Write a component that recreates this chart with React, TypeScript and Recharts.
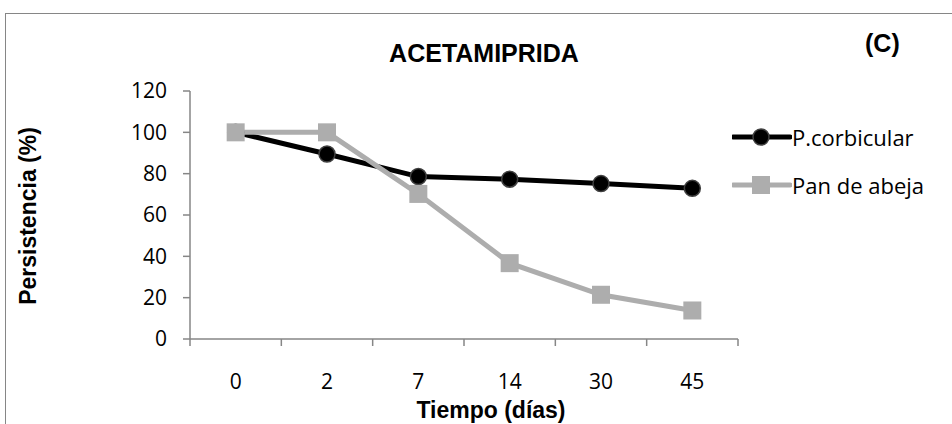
import { LineChart, Line, XAxis, YAxis, Legend } from "recharts";

const days = ["0", "2", "7", "14", "30", "45"];
const corbicular = [100, 89.5, 78.6, 77.3, 75.2, 72.9];
const panDeAbeja = [100, 100, 70.2, 36.7, 21.4, 13.8];
const yTicks = [0, 20, 40, 60, 80, 100, 120];

const data = days.map((day, i) => ({ day, corbicular: corbicular[i], pan: panDeAbeja[i] }));

const W = 952;
const H = 424;
const LEFT = 190;
const RIGHT = 214;
const TOP = 91;
const X_AXIS_H = 85;
const PLOT_W = W - LEFT - RIGHT;
const BAND = PLOT_W / days.length;
const AXIS_Y = H - X_AXIS_H;

const AXIS_COLOR = "#868686";
const GRAY = "#adadad";
const TICK_FONT = "'Open Sans', sans-serif";
const BOLD_FONT = "'Liberation Sans', Arial, sans-serif";

const XTick = (props: any) => {
  const { x, payload, index } = props;
  return (
    <g>
      <line x1={x - BAND / 2} x2={x - BAND / 2} y1={AXIS_Y} y2={AXIS_Y + 7} stroke={AXIS_COLOR} strokeWidth={1.5} />
      {index === days.length - 1 && (
        <line x1={x + BAND / 2} x2={x + BAND / 2} y1={AXIS_Y} y2={AXIS_Y + 7} stroke={AXIS_COLOR} strokeWidth={1.5} />
      )}
      <text x={x} y={AXIS_Y + 50} textAnchor="middle" fontSize={21} fontFamily={TICK_FONT} fill="#000">
        {payload.value}
      </text>
    </g>
  );
};

const SquareDot = (props: any) => {
  const { cx, cy, index } = props;
  return <rect key={`sq-${index}`} x={cx - 9} y={cy - 9} width={18} height={18} fill={GRAY} />;
};

const renderLegend = () => (
  <div style={{ fontFamily: TICK_FONT, fontSize: 22, color: "#000" }}>
    <div style={{ display: "flex", alignItems: "center", height: 30 }}>
      <svg width={60} height={24}>
        <line x1={1} x2={58} y1={12} y2={12} stroke="#000" strokeWidth={5} strokeLinecap="round" />
        <circle cx={29} cy={12} r={8} fill="#000" stroke="#404040" strokeWidth={1.5} />
      </svg>
      <span>P.corbicular</span>
    </div>
    <div style={{ display: "flex", alignItems: "center", height: 30, marginTop: 18 }}>
      <svg width={60} height={24}>
        <line x1={1} x2={58} y1={12} y2={12} stroke={GRAY} strokeWidth={5} strokeLinecap="round" />
        <rect x={20} y={3} width={18} height={18} fill={GRAY} />
      </svg>
      <span>Pan de abeja</span>
    </div>
  </div>
);

export default function App() {
  return (
    <div style={{ position: "absolute", left: 0, top: 0, width: W, height: H, overflow: "hidden", background: "#fff" }}>
      <div style={{ position: "absolute", left: 5, top: 13, width: W + 20, height: H + 20, border: `1.5px solid ${AXIS_COLOR}` }} />
      <div style={{ position: "absolute", left: 0, top: 39, width: 968, textAlign: "center", fontFamily: BOLD_FONT, fontWeight: "bold", fontSize: 25 }}>
        ACETAMIPRIDA
      </div>
      <div style={{ position: "absolute", left: 865, top: 29, fontFamily: BOLD_FONT, fontWeight: "bold", fontSize: 25 }}>
        (C)
      </div>
      <div style={{ position: "absolute", left: 0, top: 0 }}>
        <LineChart width={W} height={H} data={data} margin={{ top: TOP, right: RIGHT, bottom: 0, left: 0 }}>
          <XAxis
            dataKey="day"
            height={X_AXIS_H}
            padding={{ left: BAND / 2, right: BAND / 2 }}
            axisLine={{ stroke: AXIS_COLOR, strokeWidth: 1.5 }}
            tickLine={false}
            tick={<XTick />}
            interval={0}
            label={{
              value: "Tiempo (días)",
              position: "insideBottom",
              offset: 6,
              dx: 27,
              style: { fontFamily: BOLD_FONT, fontWeight: "bold", fontSize: 23, fill: "#000" },
            }}
          />
          <YAxis
            width={LEFT}
            domain={[0, 120]}
            ticks={yTicks}
            interval={0}
            tickSize={7}
            tickMargin={16}
            axisLine={{ stroke: AXIS_COLOR, strokeWidth: 1.5 }}
            tickLine={{ stroke: AXIS_COLOR, strokeWidth: 1.5 }}
            tick={{ fontSize: 21, fontFamily: TICK_FONT, fill: "#000" }}
            label={{
              content: () => (
                <text
                  x={28}
                  y={216}
                  transform="rotate(-90, 28, 216)"
                  textAnchor="middle"
                  dominantBaseline="central"
                  fontFamily={BOLD_FONT}
                  fontWeight="bold"
                  fontSize={23}
                  fill="#000"
                >
                  Persistencia (%)
                </text>
              ),
            }}
          />
          <Legend
            layout="vertical"
            align="center"
            verticalAlign="middle"
            content={renderLegend}
            wrapperStyle={{ left: 732, top: 122, width: 220 }}
          />
          <Line
            dataKey="corbicular"
            name="P.corbicular"
            stroke="#000"
            strokeWidth={5}
            dot={{ r: 8, fill: "#000", stroke: "#404040", strokeWidth: 1.5 }}
            isAnimationActive={false}
          />
          <Line
            dataKey="pan"
            name="Pan de abeja"
            stroke={GRAY}
            strokeWidth={5}
            dot={SquareDot}
            isAnimationActive={false}
          />
        </LineChart>
      </div>
    </div>
  );
}
